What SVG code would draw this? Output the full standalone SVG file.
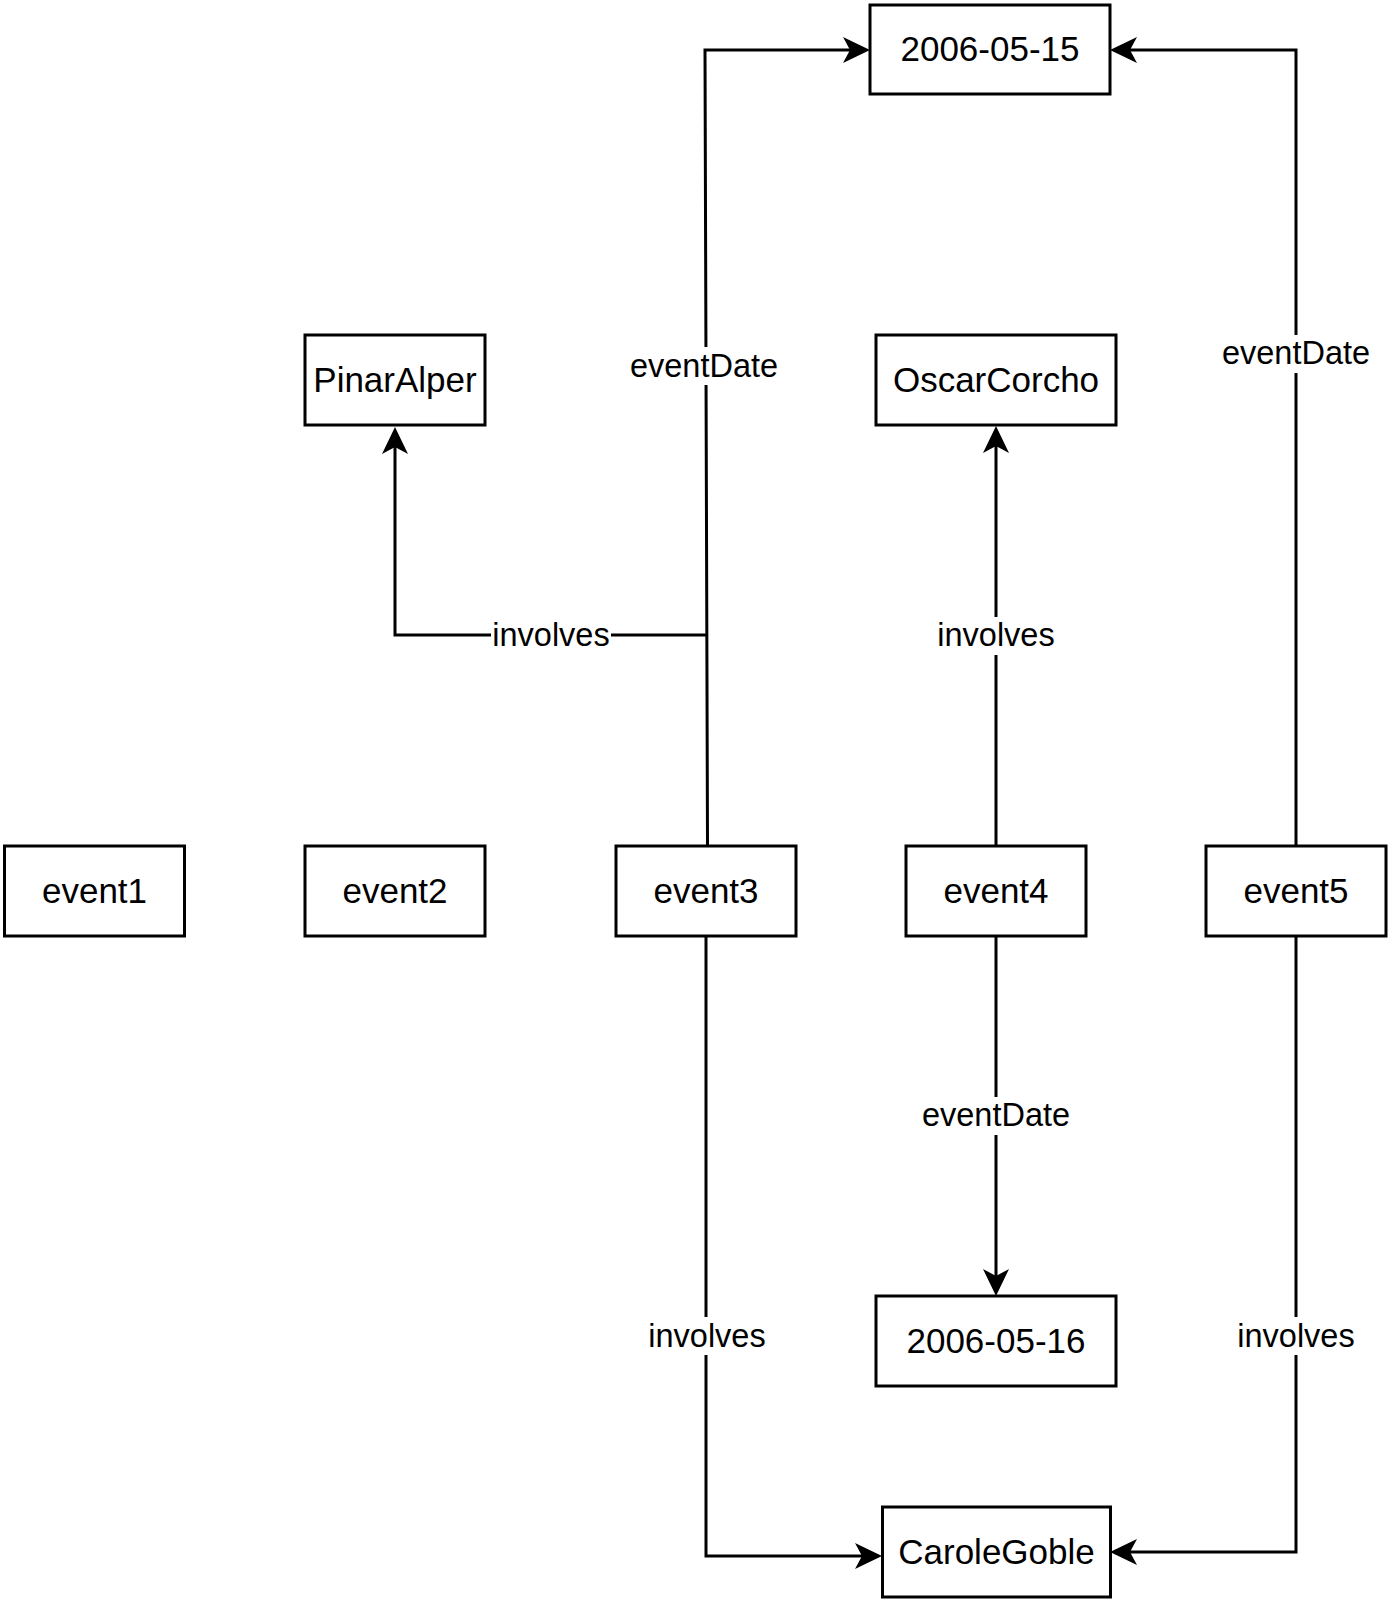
<svg xmlns="http://www.w3.org/2000/svg" width="1392" height="1608" viewBox="0 0 1392 1608">
<style>
.n rect{fill:#fff;stroke:#000;stroke-width:3}
.n text{font-family:"Liberation Sans",Arial,sans-serif;font-size:35px;text-anchor:middle;fill:#000}
.e path{fill:none;stroke:#000;stroke-width:3}
.lb rect{fill:#fff}
.lb text{font-family:"Liberation Sans",Arial,sans-serif;font-size:32.5px;text-anchor:middle;fill:#000}
</style>
<defs>
<marker id="ar" markerUnits="userSpaceOnUse" markerWidth="40" markerHeight="40" refX="0" refY="0" orient="auto" overflow="visible">
<path d="M20 0 L-7 -13 L0 0 L-7 13 Z" fill="#000"/>
</marker>
</defs>
<rect width="1392" height="1608" fill="#fff"/>
<g id="connectors" class="e">
<path d="M707.5 846 L705 50 L850 50" marker-end="url(#ar)"/>
<path d="M706.5 635 L395 635 L395 447" marker-end="url(#ar)"/>
<path d="M996 846 L996 446" marker-end="url(#ar)"/>
<path d="M996 936 L996 1276" marker-end="url(#ar)"/>
<path d="M1296 846 L1296 50 L1130 50" marker-end="url(#ar)"/>
<path d="M1296 936 L1296 1552 L1130 1552" marker-end="url(#ar)"/>
<path d="M706 936 L706 1556 L862 1556" marker-end="url(#ar)"/>
</g>
<g id="labels" class="lb">
<rect x="628" y="347" width="152" height="38"/><text x="704" y="377">eventDate</text>
<rect x="491" y="617" width="120" height="38"/><text x="551" y="646">involves</text>
<rect x="936" y="617" width="120" height="38"/><text x="996" y="646">involves</text>
<rect x="920" y="1097" width="152" height="38"/><text x="996" y="1126">eventDate</text>
<rect x="1220" y="335" width="152" height="38"/><text x="1296" y="364">eventDate</text>
<rect x="647" y="1317" width="120" height="38"/><text x="707" y="1347">involves</text>
<rect x="1236" y="1317" width="120" height="38"/><text x="1296" y="1347">involves</text>
</g>
<g id="n-20060515" class="n"><rect x="870" y="5" width="240" height="89"/><text x="990" y="61">2006-05-15</text></g>
<g id="n-pinaralper" class="n"><rect x="305" y="335" width="180" height="90"/><text x="395" y="392">PinarAlper</text></g>
<g id="n-oscarcorcho" class="n"><rect x="876" y="335" width="240" height="90"/><text x="996" y="392">OscarCorcho</text></g>
<g id="n-event1" class="n"><rect x="4.5" y="846" width="180" height="90"/><text x="94.5" y="903">event1</text></g>
<g id="n-event2" class="n"><rect x="305" y="846" width="180" height="90"/><text x="395" y="903">event2</text></g>
<g id="n-event3" class="n"><rect x="616" y="846" width="180" height="90"/><text x="706" y="903">event3</text></g>
<g id="n-event4" class="n"><rect x="906" y="846" width="180" height="90"/><text x="996" y="903">event4</text></g>
<g id="n-event5" class="n"><rect x="1206" y="846" width="180" height="90"/><text x="1296" y="903">event5</text></g>
<g id="n-20060516" class="n"><rect x="876" y="1296" width="240" height="90"/><text x="996" y="1353">2006-05-16</text></g>
<g id="n-carolegoble" class="n"><rect x="882.5" y="1507" width="228" height="90"/><text x="996.5" y="1564">CaroleGoble</text></g>
</svg>
